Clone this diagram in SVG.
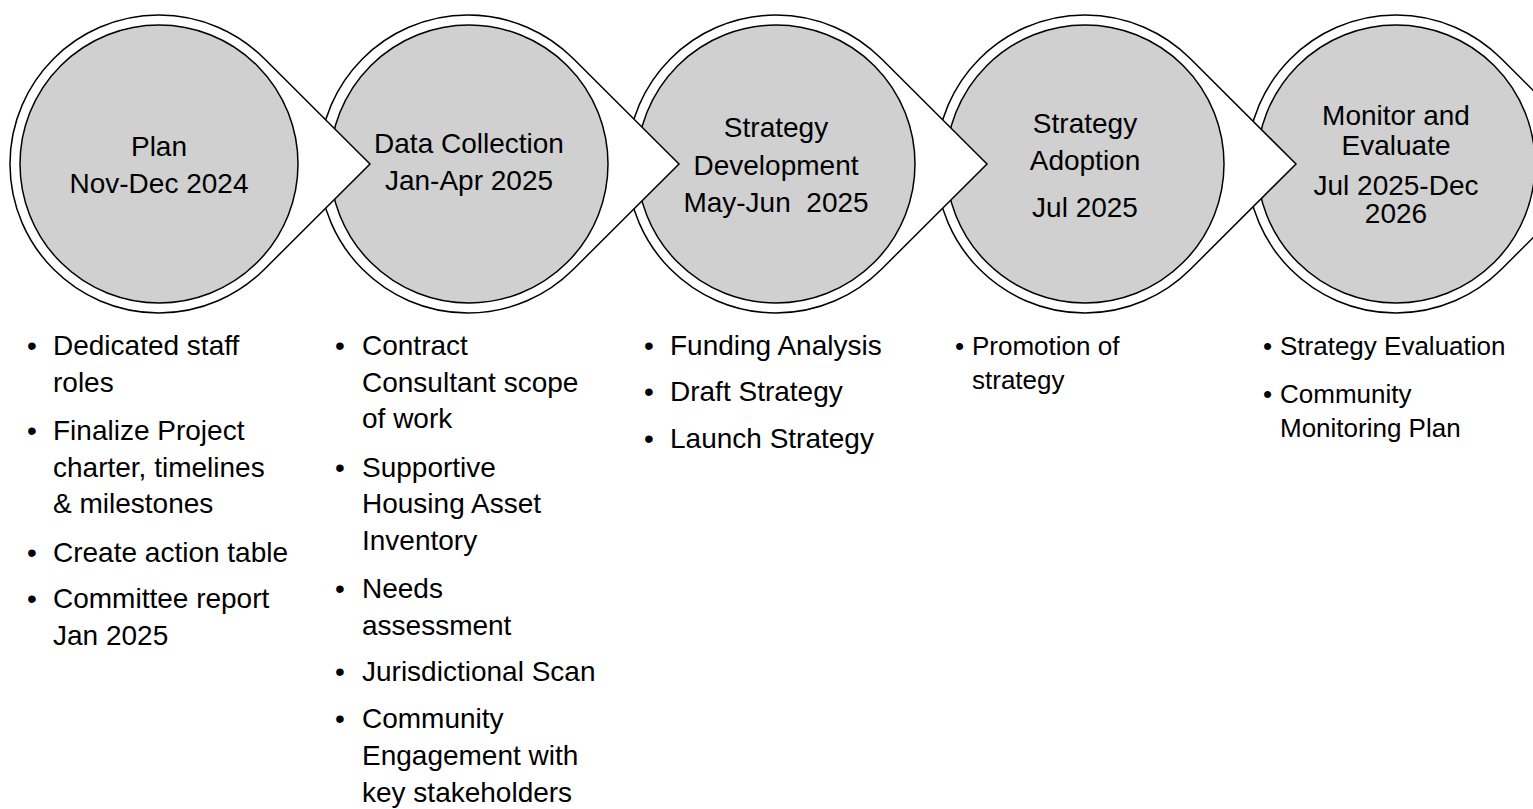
<svg xmlns="http://www.w3.org/2000/svg" width="1533" height="809" viewBox="0 0 1533 809">
<style>
.outer{fill:#ffffff;stroke:#000000;stroke-width:1.5}
.inner{fill:#d0d0d0;stroke:#000000;stroke-width:1.5}
.t{font-family:"Liberation Sans",Arial,sans-serif;font-size:28px;fill:#000000}
.c{text-anchor:middle}
.s{font-size:26px}
</style>
<rect width="1533" height="809" fill="#ffffff"/>
<g id="node5">
<path class="outer" d="M1607 164 L1501.2 58.5 A149 149 0 1 0 1501.2 269.5 Z"/>
<circle class="inner" cx="1396" cy="164" r="139"/>
<text class="t c"><tspan x="1396" y="125">Monitor and</tspan><tspan x="1396" y="155">Evaluate</tspan><tspan x="1396" y="195">Jul 2025-Dec</tspan><tspan x="1396" y="223">2026</tspan></text>
<text class="t s"><tspan x="1263" y="355">•</tspan><tspan x="1263" y="403">•</tspan></text>
<text class="t s"><tspan x="1280" y="355">Strategy Evaluation</tspan><tspan x="1280" y="403">Community</tspan><tspan x="1280" y="437">Monitoring Plan</tspan></text>
</g>
<g id="node4">
<path class="outer" d="M1296 164 L1190.2 58.5 A149 149 0 1 0 1190.2 269.5 Z"/>
<circle class="inner" cx="1085" cy="164" r="139"/>
<text class="t c"><tspan x="1085" y="133">Strategy</tspan><tspan x="1085" y="170">Adoption</tspan><tspan x="1085" y="217">Jul 2025</tspan></text>
<text class="t s"><tspan x="955" y="355">•</tspan></text>
<text class="t s"><tspan x="972" y="355">Promotion of</tspan><tspan x="972" y="389">strategy</tspan></text>
</g>
<g id="node3">
<path class="outer" d="M987 164 L881.2 58.5 A149 149 0 1 0 881.2 269.5 Z"/>
<circle class="inner" cx="776" cy="164" r="139"/>
<text class="t c" xml:space="preserve"><tspan x="776" y="137">Strategy</tspan><tspan x="776" y="175">Development</tspan><tspan x="776" y="212">May-Jun  2025</tspan></text>
<text class="t"><tspan x="644" y="355">•</tspan><tspan x="644" y="401">•</tspan><tspan x="644" y="448">•</tspan></text>
<text class="t"><tspan x="670" y="355">Funding Analysis</tspan><tspan x="670" y="401">Draft Strategy</tspan><tspan x="670" y="448">Launch Strategy</tspan></text>
</g>
<g id="node2">
<path class="outer" d="M679 164 L573.2 58.5 A149 149 0 1 0 573.2 269.5 Z"/>
<circle class="inner" cx="469" cy="164" r="139"/>
<text class="t c"><tspan x="469" y="153">Data Collection</tspan><tspan x="469" y="190">Jan-Apr 2025</tspan></text>
<text class="t"><tspan x="335" y="355">•</tspan><tspan x="335" y="477">•</tspan><tspan x="335" y="598">•</tspan><tspan x="335" y="681">•</tspan><tspan x="335" y="728">•</tspan></text>
<text class="t"><tspan x="362" y="355">Contract</tspan><tspan x="362" y="392">Consultant scope</tspan><tspan x="362" y="428">of work</tspan><tspan x="362" y="477">Supportive</tspan><tspan x="362" y="513">Housing Asset</tspan><tspan x="362" y="550">Inventory</tspan><tspan x="362" y="598">Needs</tspan><tspan x="362" y="635">assessment</tspan><tspan x="362" y="681">Jurisdictional Scan</tspan><tspan x="362" y="728">Community</tspan><tspan x="362" y="765">Engagement with</tspan><tspan x="362" y="802">key stakeholders</tspan></text>
</g>
<g id="node1">
<path class="outer" d="M370 164 L264.2 58.5 A149 149 0 1 0 264.2 269.5 Z"/>
<circle class="inner" cx="159" cy="164" r="139"/>
<text class="t c"><tspan x="159" y="156">Plan</tspan><tspan x="159" y="193">Nov-Dec 2024</tspan></text>
<text class="t"><tspan x="27" y="355">•</tspan><tspan x="27" y="440">•</tspan><tspan x="27" y="562">•</tspan><tspan x="27" y="608">•</tspan></text>
<text class="t"><tspan x="53" y="355">Dedicated staff</tspan><tspan x="53" y="392">roles</tspan><tspan x="53" y="440">Finalize Project</tspan><tspan x="53" y="477">charter, timelines</tspan><tspan x="53" y="513">&amp; milestones</tspan><tspan x="53" y="562">Create action table</tspan><tspan x="53" y="608">Committee report</tspan><tspan x="53" y="645">Jan 2025</tspan></text>
</g>
<g id="connectors"></g>
</svg>
